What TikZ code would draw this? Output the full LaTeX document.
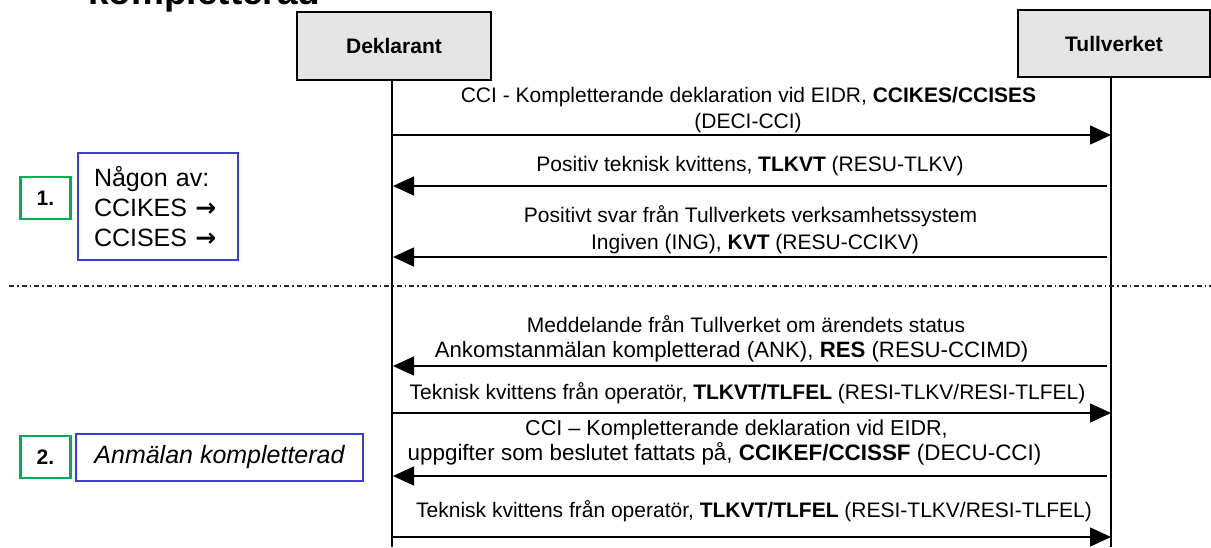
\documentclass[tikz,border=0pt]{standalone}
\usepackage{fontspec}
\setmainfont{Liberation Sans}
\newfontfamily\symfont{DejaVu Sans}
\usetikzlibrary{arrows.meta,calc}
\definecolor{notegreen}{RGB}{0,176,80}
\definecolor{noteblue}{RGB}{60,60,205}
\begin{document}
\begin{tikzpicture}[x=1pt,y=-1pt,
  lbl/.style={font=\fontsize{21}{26}\selectfont, anchor=base, inner sep=0pt},
  hdr/.style={draw=black, line width=2pt, fill=black!10, font=\fontsize{21}{24}\selectfont\bfseries, inner sep=0pt},
  life/.style={line width=1.5pt},
  msg/.style={line width=1.5pt, -{Triangle[length=21pt,width=19pt]}},
  numbox/.style={draw=notegreen, line width=2.2pt, minimum width=50pt, minimum height=42pt, inner sep=0pt, font=\fontsize{21}{24}\selectfont\bfseries},
  notebox/.style={draw=noteblue, line width=1.5pt, inner sep=0pt},
  sepline/.style={line width=1.2pt, black!85, dash pattern=on 5pt off 3pt on 1.5pt off 3pt}
]
\useasboundingbox (0,0) rectangle (1211,547);

% title (cut off at the top)
\node[font=\fontsize{37}{40}\selectfont\bfseries, anchor=base west, inner sep=0pt] (title) at (88,4) {kompletterad};

% participants
\node[hdr, minimum width=194pt, minimum height=68pt] (dekl) at (394,46) {Deklarant};
\node[hdr, minimum width=192pt, minimum height=67pt] (tull) at (1114,43.5) {Tullverket};

\coordinate (dl) at (392,0);
\coordinate (tl) at (1111,0);
\coordinate (bot) at (0,547);
\draw[life] (dekl.south -| dl) -- (dl |- bot);
\draw[life] (tull.south -| tl) -- (tl |- bot);

% messages, part 1
\node[lbl] (m1a) at (748.5,102.5) {CCI - Kompletterande deklaration vid EIDR, \textbf{CCIKES/CCISES}};
\node[lbl] (m1b) at (748,128.5) {(DECI-CCI)};
\draw[msg] ($(dl)+(0,135)$) -- ($(tl)+(0,135)$);

\node[lbl] (m2) at (750,171.5) {Positiv teknisk kvittens, \textbf{TLKVT} (RESU-TLKV)};
\draw[msg] ($(tl)+(-4,186)$) -- ($(dl)+(1,186)$);

\node[lbl] (m3a) at (750.5,222.5) {Positivt svar från Tullverkets verksamhetssystem};
\node[lbl] (m3b) at (755,249) {Ingiven (ING), \textbf{KVT} (RESU-CCIKV)};
\draw[msg] ($(tl)+(-4,257)$) -- ($(dl)+(1,257)$);

% separator
\coordinate (sepL) at (9,286);
\coordinate (sepR) at (1211,286);
\draw[sepline] (sepL) -- (sepR);

% messages, part 2
\node[lbl] (m4a) at (746,332.5) {Meddelande från Tullverket om ärendets status};
\node[lbl, font=\fontsize{22.2}{26}\selectfont] (m4b) at (731.5,357.5) {Ankomstanmälan kompletterad (ANK), \textbf{RES} (RESU-CCIMD)};
\draw[msg] ($(tl)+(-4,366)$) -- ($(dl)+(1,366)$);

\node[lbl] (m5) at (747.5,399.5) {Teknisk kvittens från operatör, \textbf{TLKVT/TLFEL} (RESI-TLKV/RESI-TLFEL)};
\draw[msg] ($(dl)+(0,413)$) -- ($(tl)+(0,413)$);

\node[lbl, font=\fontsize{21.6}{26}\selectfont] (m6a) at (736.5,435.5) {CCI – Kompletterande deklaration vid EIDR,};
\node[lbl, font=\fontsize{22.4}{26}\selectfont] (m6b) at (724.5,460.5) {uppgifter som beslutet fattats på, \textbf{CCIKEF/CCISSF} (DECU-CCI)};
\draw[msg] ($(tl)+(-4,476)$) -- ($(dl)+(1,476)$);

\node[lbl] (m7) at (754,517.5) {Teknisk kvittens från operatör, \textbf{TLKVT/TLFEL} (RESI-TLKV/RESI-TLFEL)};
\draw[msg] ($(dl)+(0,537)$) -- ($(tl)+(0,537)$);

% step notes
\node[numbox] (n1) at (45.5,198) {1.};
\node[notebox, text width=128pt, inner xsep=16pt, minimum height=107pt, align=left,
      font=\fontsize{25}{30}\selectfont] (s1) at (158,206.5)
  {Någon av:\\CCIKES {\symfont\bfseries →}\\CCISES {\symfont\bfseries →}};

\node[numbox] (n2) at (45.5,457) {2.};
\node[notebox, minimum width=287pt, minimum height=47pt,
      font=\fontsize{25}{30}\selectfont\itshape] (s2) at (219.5,457.5) {Anmälan kompletterad};
\end{tikzpicture}
\end{document}
